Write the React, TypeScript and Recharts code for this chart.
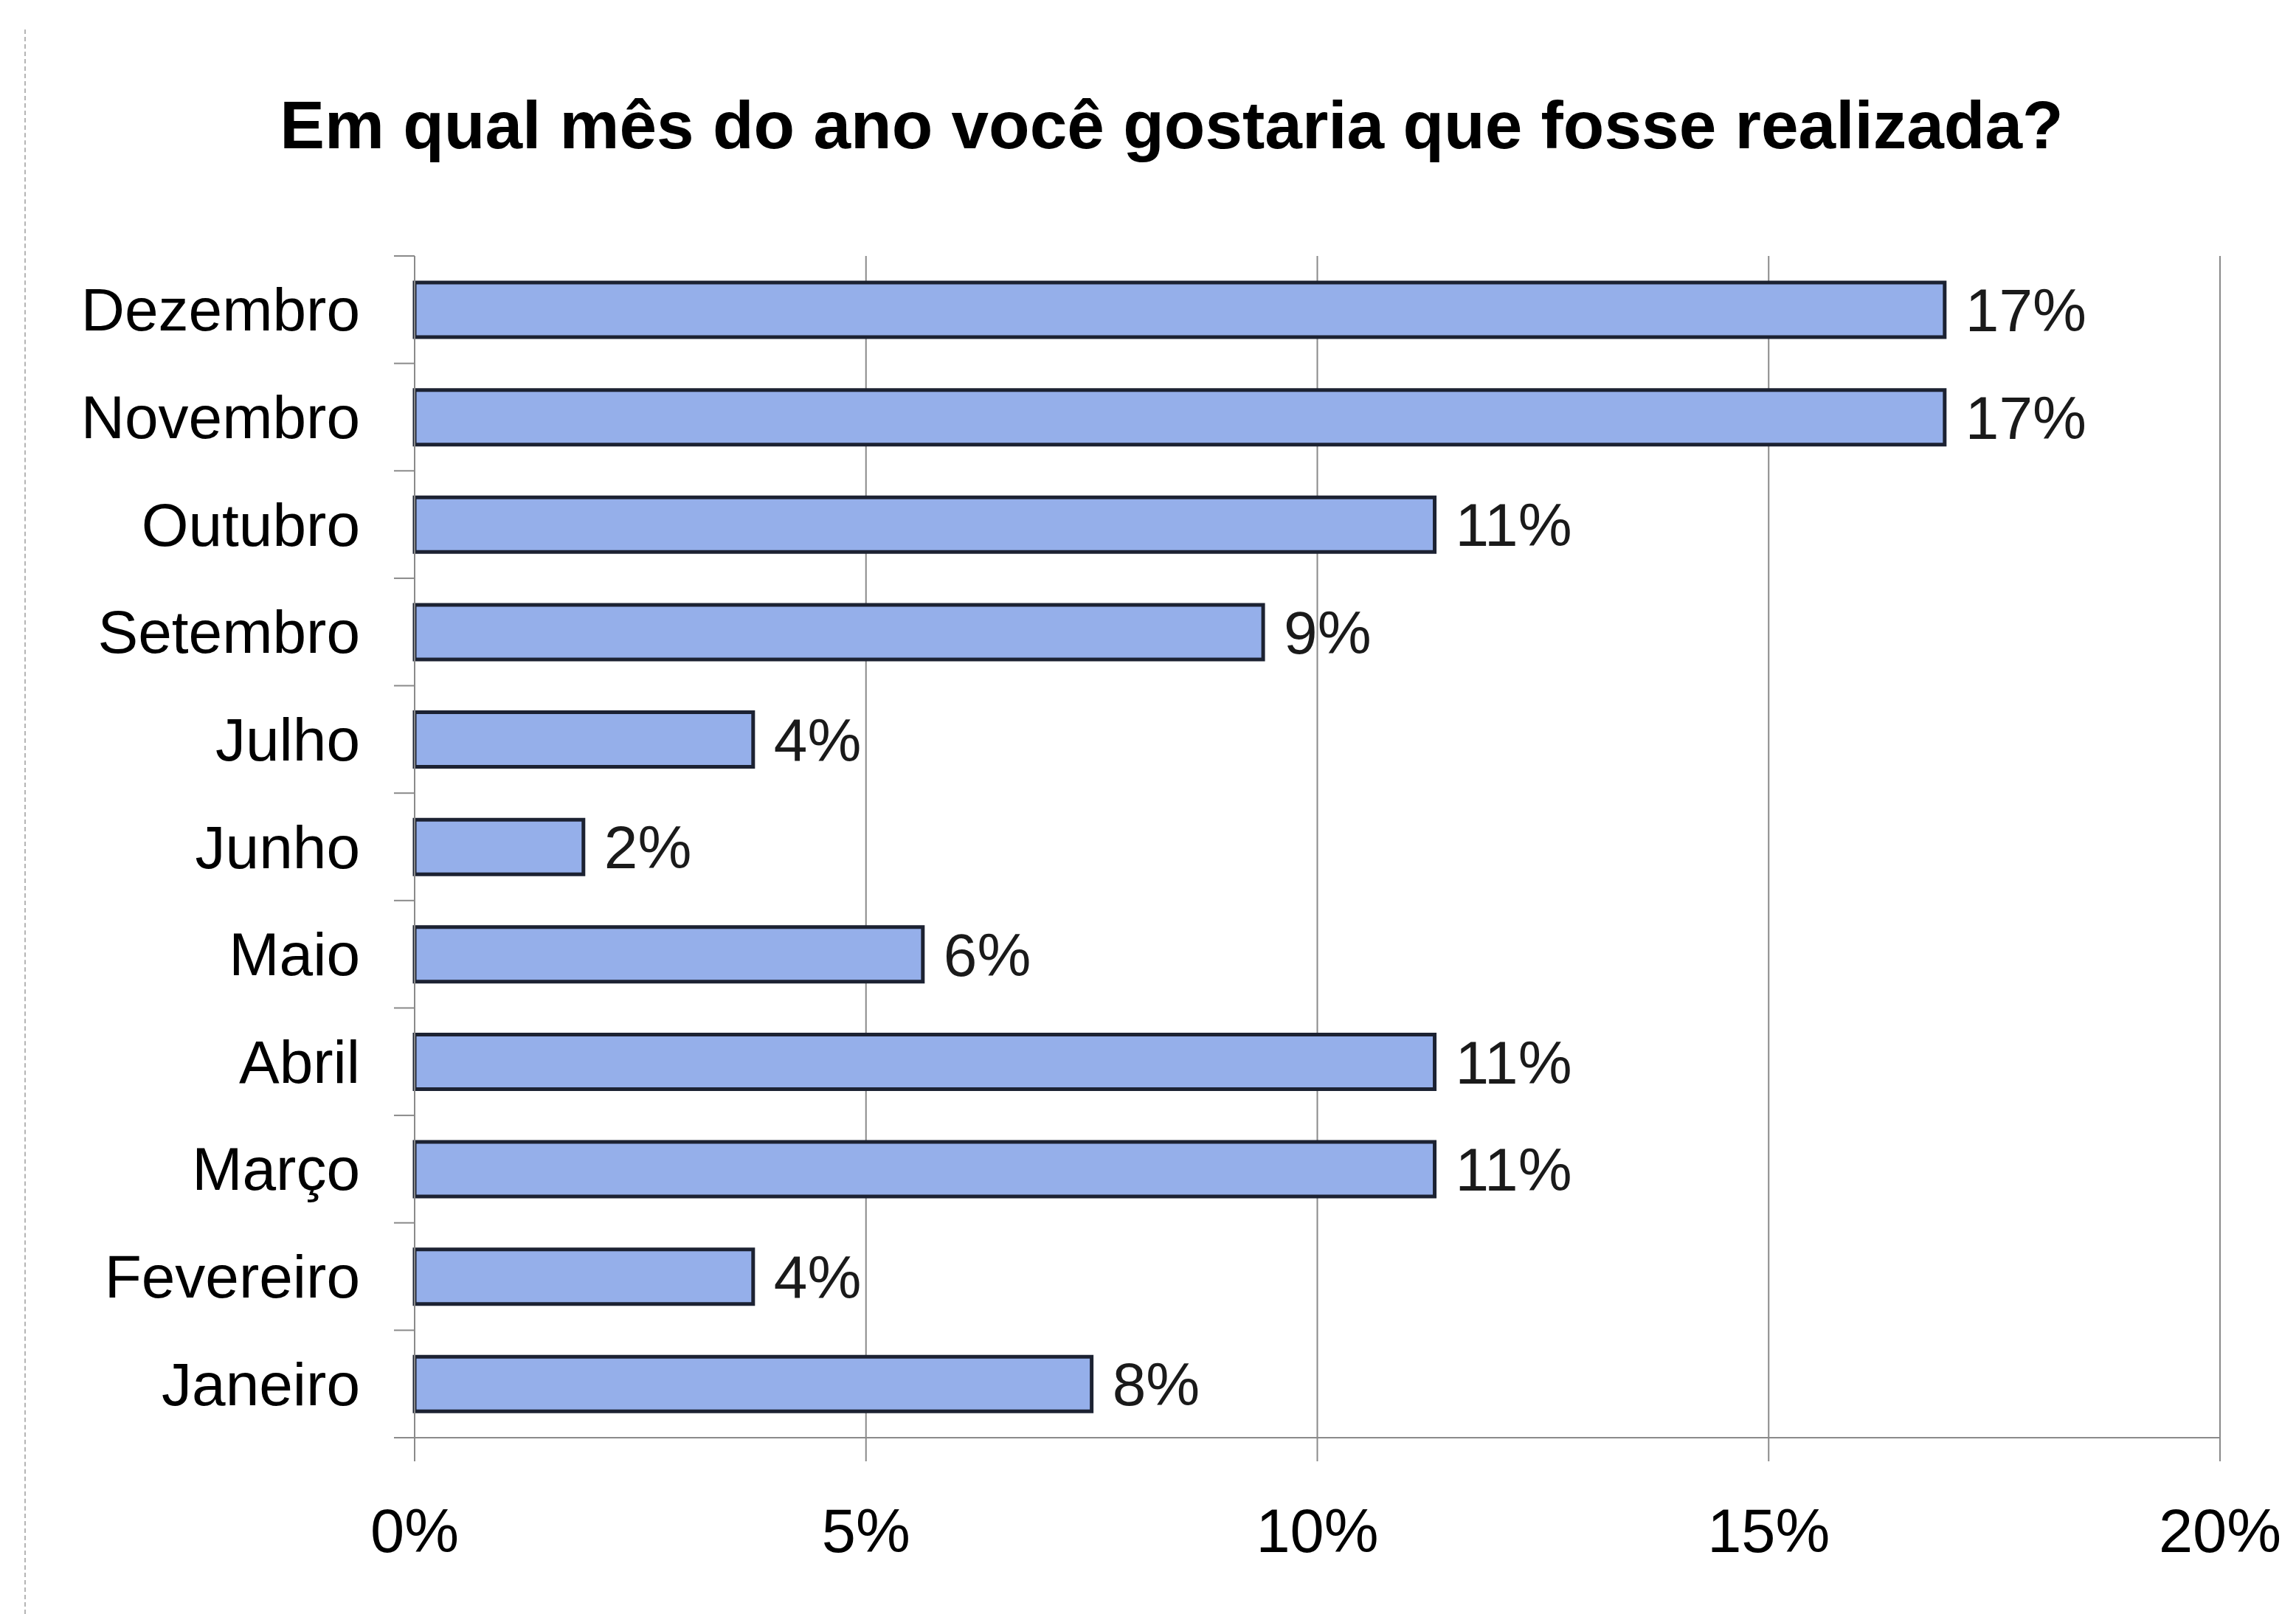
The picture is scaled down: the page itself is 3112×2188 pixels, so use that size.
import React from 'react';
import {
  BarChart,
  Bar,
  XAxis,
  YAxis,
  CartesianGrid,
  LabelList,
} from 'recharts';

// survey answers, top to bottom as in the chart
const categories = [
  'Dezembro',
  'Novembro',
  'Outubro',
  'Setembro',
  'Julho',
  'Junho',
  'Maio',
  'Abril',
  'Março',
  'Fevereiro',
  'Janeiro',
];
const values = [16.95, 16.95, 11.3, 9.4, 3.75, 1.87, 5.63, 11.3, 11.3, 3.75, 7.5];
const valueLabels = ['17%', '17%', '11%', '9%', '4%', '2%', '6%', '11%', '11%', '4%', '8%'];
const xTicks = [0, 5, 10, 15, 20];

const data = categories.map((name, i) => ({
  name,
  value: values[i],
  label: valueLabels[i],
}));

const W = 3112;
const H = 2188;
const PLOT_LEFT = 562;
const PLOT_TOP = 347;
const PLOT_BOTTOM = 1949;
const PLOT_RIGHT = 3009;
const Y_AXIS_W = 540;
const X_AXIS_H = 30;
const BAND = (PLOT_BOTTOM - PLOT_TOP) / categories.length;
const FONT = '"Liberation Sans", Arial, sans-serif';
const AXIS_GRAY = '#8a8a8a';

const CategoryTick = (props: any) => {
  const { y, payload, index } = props;
  return (
    <g>
      <text
        x={PLOT_LEFT - 74}
        y={y}
        textAnchor="end"
        dominantBaseline="central"
        fontSize={82}
        fontFamily={FONT}
        fill="#000"
      >
        {payload.value}
      </text>
      <line
        x1={PLOT_LEFT - 28}
        x2={PLOT_LEFT}
        y1={y - BAND / 2}
        y2={y - BAND / 2}
        stroke={AXIS_GRAY}
        strokeWidth={2}
      />
      {index === categories.length - 1 && (
        <line
          x1={PLOT_LEFT - 28}
          x2={PLOT_LEFT}
          y1={y + BAND / 2}
          y2={y + BAND / 2}
          stroke={AXIS_GRAY}
          strokeWidth={2}
        />
      )}
    </g>
  );
};

const App = () => {
  return (
    <div
      style={{
        position: 'absolute',
        left: 0,
        top: 0,
        width: W,
        height: H,
        background: '#fff',
        fontFamily: FONT,
      }}
    >
      {/* scan edge on the left */}
      <div
        style={{
          position: 'absolute',
          left: 33,
          top: 40,
          width: 0,
          height: H - 40,
          borderLeft: '2px dashed #b5b5b5',
        }}
      />
      <div
        style={{
          position: 'absolute',
          left: 0,
          top: 125,
          width: 3176,
          textAlign: 'center',
          fontSize: 91,
          lineHeight: '90px',
          fontWeight: 'bold',
          color: '#000',
        }}
      >
        Em qual mês do ano você gostaria que fosse realizada?
      </div>
      <BarChart
        width={W}
        height={H}
        data={data}
        layout="vertical"
        barSize={74}
        margin={{
          top: PLOT_TOP,
          bottom: H - PLOT_BOTTOM - X_AXIS_H,
          left: PLOT_LEFT - Y_AXIS_W,
          right: W - PLOT_RIGHT,
        }}
      >
        <CartesianGrid horizontal={false} stroke={AXIS_GRAY} strokeWidth={2} />
        <XAxis
          type="number"
          domain={[0, 20]}
          ticks={xTicks}
          interval={0}
          height={X_AXIS_H}
          tickFormatter={(v: number) => `${v}%`}
          stroke={AXIS_GRAY}
          strokeWidth={2}
          tickSize={32}
          tickMargin={64}
          tick={{ fill: '#000', fontSize: 83, fontFamily: FONT }}
        />
        <YAxis
          type="category"
          dataKey="name"
          width={Y_AXIS_W}
          stroke={AXIS_GRAY}
          strokeWidth={2}
          tickLine={false}
          tickSize={0}
          interval={0}
          tick={<CategoryTick />}
        />
        <Bar
          dataKey="value"
          fill="#95afea"
          stroke="#1c2232"
          strokeWidth={5}
          isAnimationActive={false}
        >
          <LabelList
            dataKey="label"
            position="right"
            offset={28}
            fill="#1a1a1a"
            fontSize={82}
            fontFamily={FONT}
          />
        </Bar>
      </BarChart>
    </div>
  );
};

export default App;
